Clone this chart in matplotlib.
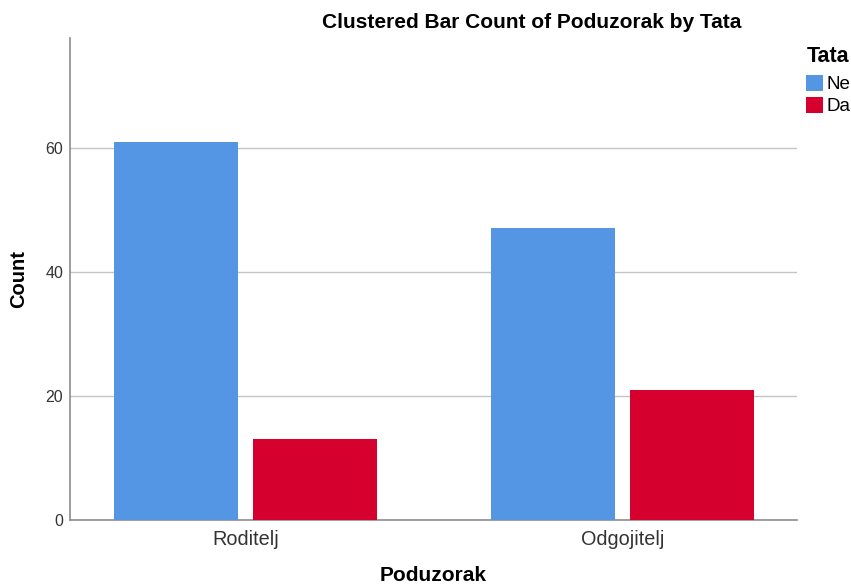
import numpy as np
import matplotlib.pyplot as plt
from matplotlib.patches import Patch

plt.rcParams['font.family'] = ['Liberation Sans', 'DejaVu Sans']

# Chart data
categories = ['Roditelj', 'Odgojitelj']
series_names = ['Ne', 'Da']
ne_counts = [61, 47]
da_counts = [13, 21]

colors = ['#5496E3', '#D5002E']

fig = plt.figure(figsize=(8.51, 5.85), dpi=100)
ax = fig.add_axes([0.0823, 0.111, 0.8542, 0.824])

x = np.arange(len(categories))
width = 0.329
offset = 0.1844

ax.bar(x - offset, ne_counts, width, color=colors[0], zorder=3)
ax.bar(x + offset, da_counts, width, color=colors[1], zorder=3)

ax.set_xlim(-0.4655, 1.463)
ax.set_ylim(0, 77.7)
ax.set_yticks([0, 20, 40, 60])
ax.yaxis.grid(True, color='#c4c4c4', linewidth=1.0, zorder=0)

ax.set_xticks(x)
ax.set_xticklabels(categories, fontsize=14.3, color='#333333')
ax.tick_params(axis='x', length=0, pad=7)
ax.tick_params(axis='y', length=0, pad=5, labelsize=11.5, colors='#333333')

for side in ['top', 'right']:
    ax.spines[side].set_visible(False)
for side in ['left', 'bottom']:
    ax.spines[side].set_color('#8c8c8c')
    ax.spines[side].set_linewidth(1.2)

# axis labels placed by hand (pixel positions from the reference)
ax.set_ylabel('Count', fontsize=14.5, fontweight='bold', va='center')
ax.yaxis.set_label_coords((19 - 70) / 727, 0.5)
ax.set_xlabel('Poduzorak', fontsize=15, fontweight='bold', va='center')
ax.xaxis.set_label_coords(0.5, (520 - 575) / 482)

fig.text(532 / 851, 1 - 23 / 585, 'Clustered Bar Count of Poduzorak by Tata',
         ha='center', va='center', fontsize=15, fontweight='bold')

# legend: title as separate text to get the wider gap
fig.text(807 / 851, 1 - 57 / 585, 'Tata', ha='left', va='center',
         fontsize=15.5, fontweight='bold')
handles = [Patch(facecolor=c, edgecolor='none') for c in colors]
leg = fig.legend(handles, series_names, loc='upper left',
                 bbox_to_anchor=(806 / 851, 1 - 75 / 585), frameon=False,
                 fontsize=13.5, handlelength=0.9, handleheight=0.9,
                 handletextpad=0.2, borderaxespad=0, borderpad=0,
                 labelspacing=0.2)

fig.savefig('out.png', dpi=100)
